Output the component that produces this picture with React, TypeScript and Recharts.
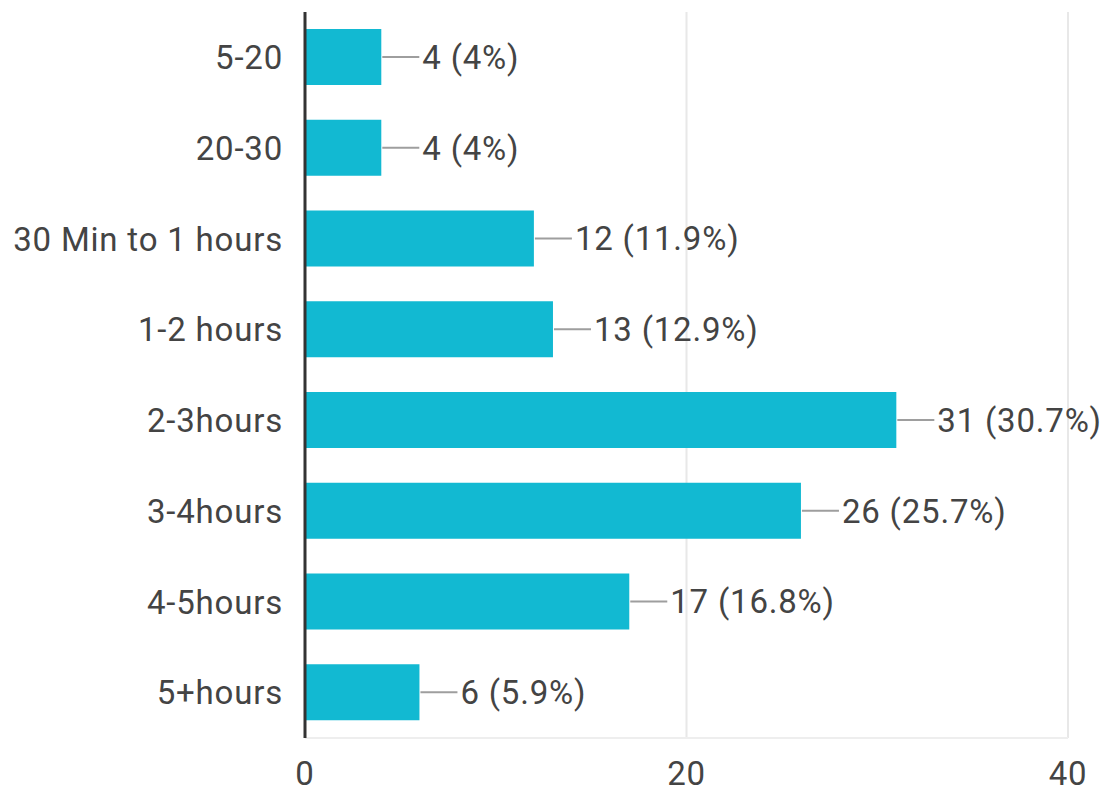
import React from "react";
import { BarChart, Bar, XAxis, YAxis, CartesianGrid, LabelList } from "recharts";

const categories = ["5-20", "20-30", "30 Min to 1 hours", "1-2 hours", "2-3hours", "3-4hours", "4-5hours", "5+hours"];
const counts = [4, 4, 12, 13, 31, 26, 17, 6];
const percents = ["4%", "4%", "11.9%", "12.9%", "30.7%", "25.7%", "16.8%", "5.9%"];
const xTicks = [0, 20, 40];

const data = categories.map((c, i) => ({ name: c, value: counts[i], pct: percents[i] }));

const FONT = "Roboto, 'Noto Sans', sans-serif";

const ValueLabel = (props: any) => {
  const { x, y, width, height, index } = props;
  const ex = x + width;
  const cy = y + height / 2;
  return (
    <g>
      <line x1={ex + 1} y1={cy} x2={ex + 38} y2={cy} stroke="#9e9e9e" strokeWidth={2} />
      <text x={ex + 41} y={cy} dy="0.36em" fill="#444" fontSize={33} letterSpacing={0.8} fontFamily={FONT}>
        {`${counts[index]} (${percents[index]})`}
      </text>
    </g>
  );
};

export default function App() {
  return (
    <div style={{ position: "absolute", left: 0, top: 0, background: "#fff" }}>
      <BarChart
        width={1109}
        height={792}
        data={data}
        layout="vertical"
        margin={{ top: 12, right: 41, bottom: 0, left: 0 }}
        barSize={56}
      >
        <CartesianGrid horizontal={false} stroke="#e8e8e8" strokeWidth={2} />
        <XAxis
          type="number"
          domain={[0, 40]}
          ticks={xTicks}
          height={54}
          axisLine={{ stroke: "#eeeeee", strokeWidth: 2 }}
          tickLine={false}
          tickSize={0}
          tickMargin={24}
          tick={{ fill: "#444", fontSize: 33, letterSpacing: 0.8, fontFamily: FONT }}
        />
        <XAxis
          xAxisId="top"
          orientation="top"
          type="number"
          domain={[0, 40]}
          height={0}
          tick={false}
          tickLine={false}
          axisLine={{ stroke: "#f2f2f2", strokeWidth: 2 }}
        />
        <YAxis
          type="category"
          dataKey="name"
          width={305}
          axisLine={{ stroke: "#333", strokeWidth: 3 }}
          tickLine={false}
          tickSize={0}
          tickMargin={22}
          interval={0}
          tick={{ fill: "#444", fontSize: 33, letterSpacing: 0.8, fontFamily: FONT }}
        />
        <Bar dataKey="value" fill="#12B9D2" isAnimationActive={false}>
          <LabelList dataKey="value" content={<ValueLabel />} />
        </Bar>
      </BarChart>
    </div>
  );
}
